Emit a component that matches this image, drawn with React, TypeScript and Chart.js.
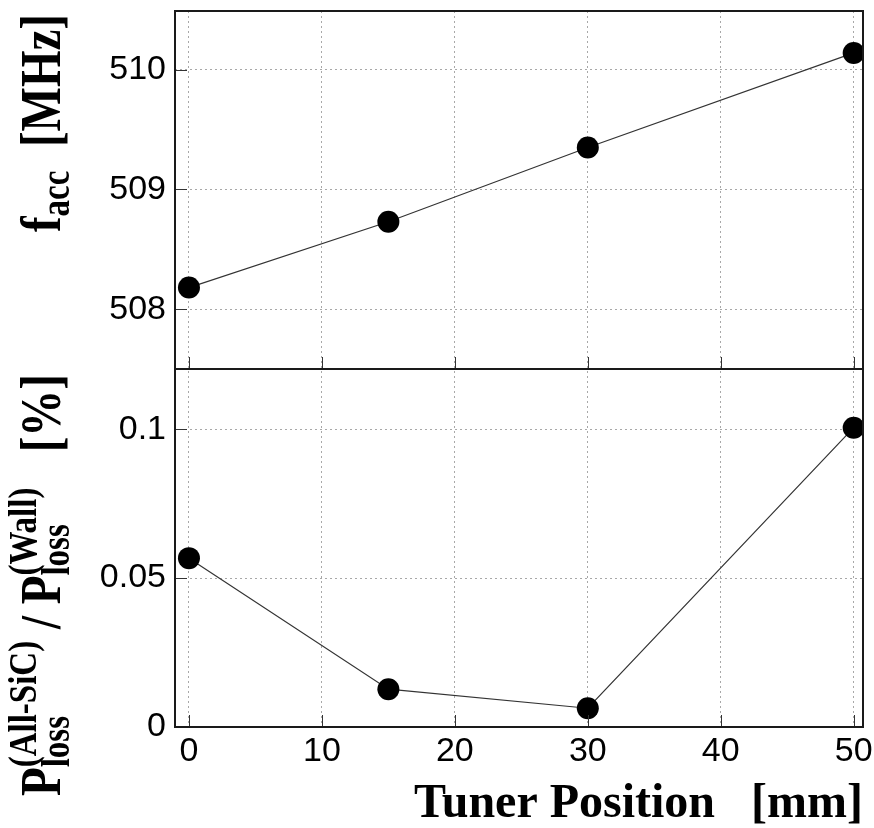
import React, { useEffect, useRef } from "react";
import { Chart, registerables } from "chart.js";

Chart.register(...registerables);

// Tuner scan: accelerating-mode frequency and SiC loss fraction
const tunerPos = [0, 15, 30, 50];
const faccMHz = [508.18, 508.73, 509.35, 510.14];
const lossRatioPct = [0.0567, 0.0127, 0.0063, 0.1005];

const xTicks = [0, 10, 20, 30, 40, 50];
const faccTicks = [508, 509, 510];
const ratioTicks = [0, 0.05, 0.1];

const xTitle = "Tuner Position   [mm]";

const SERIF = '"Liberation Serif", "Times New Roman", serif';
const SANS = '"Liberation Sans", Arial, sans-serif';

type Seg =
  | { kind: "text"; text: string; size: number; shift: number }
  | { kind: "pair"; sub: string; sup: string; size: number; subShift: number; supShift: number };

const MAIN = 47;
const SMALL = 33;
const STRETCH = 1.2;

const faccTitle: Seg[] = [
  { kind: "text", text: "f", size: MAIN, shift: 0 },
  { kind: "text", text: "acc", size: SMALL, shift: 9 },
  { kind: "text", text: "  ", size: MAIN, shift: 0 },
  { kind: "text", text: "[MHz]", size: MAIN, shift: 0 },
];

const ratioTitle: Seg[] = [
  { kind: "text", text: "P", size: MAIN, shift: 0 },
  { kind: "pair", sub: "loss", sup: "(All-SiC)", size: SMALL, subShift: 9, supShift: -24 },
  { kind: "text", text: " / ", size: MAIN, shift: 0 },
  { kind: "text", text: "P", size: MAIN, shift: 0 },
  { kind: "pair", sub: "loss", sup: "(Wall)", size: SMALL, subShift: 9, supShift: -24 },
  { kind: "text", text: "   ", size: MAIN, shift: 0 },
  { kind: "text", text: "[%]", size: MAIN, shift: 0 },
];

function segWidth(ctx: CanvasRenderingContext2D, s: Seg): number {
  ctx.font = `bold ${s.size}px ${SERIF}`;
  if (s.kind === "text") return ctx.measureText(s.text).width;
  return Math.max(ctx.measureText(s.sub).width, ctx.measureText(s.sup).width);
}

function drawRotated(ctx: CanvasRenderingContext2D, text: string, x: number, y: number) {
  ctx.save();
  ctx.translate(x, y);
  ctx.rotate(-Math.PI / 2);
  ctx.scale(1, STRETCH);
  ctx.textAlign = "left";
  ctx.textBaseline = "alphabetic";
  ctx.fillText(text, 0, 0);
  ctx.restore();
}

// Vertical title read bottom-to-top, ending at endY
function drawVerticalTitle(ctx: CanvasRenderingContext2D, segs: Seg[], baseX: number, endY: number) {
  const total = segs.reduce((a, s) => a + segWidth(ctx, s), 0);
  let pos = endY + total;
  ctx.fillStyle = "#000";
  for (const s of segs) {
    const w = segWidth(ctx, s);
    ctx.font = `bold ${s.size}px ${SERIF}`;
    if (s.kind === "text") {
      drawRotated(ctx, s.text, baseX + s.shift, pos);
    } else {
      drawRotated(ctx, s.sub, baseX + s.subShift, pos);
      drawRotated(ctx, s.sup, baseX + s.supShift, pos);
    }
    pos -= w;
  }
}

const framePlugin = {
  id: "panelFrames",
  afterDraw(chart: any) {
    const ctx: CanvasRenderingContext2D = chart.ctx;
    const xs = chart.scales.x;
    const panels = [chart.scales.yTop, chart.scales.yBot];
    const left = chart.chartArea.left;
    const right = chart.chartArea.right;

    ctx.save();
    // inward tick marks
    ctx.strokeStyle = "#333";
    ctx.lineWidth = 1;
    ctx.setLineDash([]);
    for (const p of panels) {
      for (const v of xTicks) {
        const px = Math.round(xs.getPixelForValue(v)) + 0.5;
        ctx.beginPath();
        ctx.moveTo(px, p.bottom);
        ctx.lineTo(px, p.bottom - 12);
        ctx.stroke();
      }
      const yt = p.id === "yTop" ? faccTicks : ratioTicks;
      for (const v of yt) {
        const py = Math.round(p.getPixelForValue(v)) + 0.5;
        ctx.beginPath();
        ctx.moveTo(left, py);
        ctx.lineTo(left + 12, py);
        ctx.stroke();
      }
    }
    // panel frames
    ctx.strokeStyle = "#1a1a1a";
    ctx.lineWidth = 2;
    for (const p of panels) {
      ctx.strokeRect(left, p.top, right - left, p.bottom - p.top);
    }
    ctx.restore();

    ctx.save();
    drawVerticalTitle(ctx, faccTitle, 60, chart.scales.yTop.top + 3);
    drawVerticalTitle(ctx, ratioTitle, 60, chart.scales.yBot.top + 5);

    ctx.font = `bold 48px ${SERIF}`;
    ctx.fillStyle = "#000";
    ctx.textAlign = "right";
    ctx.textBaseline = "alphabetic";
    ctx.fillText(xTitle, right, 817);
    ctx.restore();
  },
};

export default function App() {
  const ref = useRef<HTMLCanvasElement | null>(null);

  useEffect(() => {
    document.body.style.margin = "0";
    const canvas = ref.current;
    if (!canvas) return;

    const gridStyle = { color: "#a8a8a8", lineWidth: 1, drawTicks: false };
    const borderStyle = { display: false, dash: [2, 3] };
    const tickFont = { family: SANS, size: 34 };

    const fitY = (s: any) => {
      s.width = 175;
      s.paddingTop = 0;
      s.paddingBottom = 0;
    };

    const chart = new Chart(canvas, {
      type: "line",
      data: {
        datasets: [
          {
            data: tunerPos.map((x, i) => ({ x, y: lossRatioPct[i] })),
            yAxisID: "yBot",
            xAxisID: "x",
            borderColor: "#333",
            borderWidth: 1.2,
            pointRadius: 11,
            pointBackgroundColor: "#000",
            pointBorderWidth: 0,
            fill: false,
          },
          {
            data: tunerPos.map((x, i) => ({ x, y: faccMHz[i] })),
            yAxisID: "yTop",
            xAxisID: "x",
            borderColor: "#333",
            borderWidth: 1.2,
            pointRadius: 11,
            pointBackgroundColor: "#000",
            pointBorderWidth: 0,
            fill: false,
          },
        ],
      },
      options: {
        animation: false,
        responsive: false,
        layout: { padding: { left: 0, right: 9, top: 9, bottom: 0 } },
        plugins: { legend: { display: false }, tooltip: { enabled: false } },
        scales: {
          x: {
            type: "linear",
            position: "bottom",
            min: -1.05,
            max: 50.7,
            grid: gridStyle,
            border: borderStyle,
            ticks: { font: tickFont, color: "#000", padding: 4, maxRotation: 0 },
            afterBuildTicks: (s: any) => {
              s.ticks = xTicks.map((v) => ({ value: v }));
            },
            afterFit: (s: any) => {
              s.height = 101;
              s.paddingLeft = 0;
              s.paddingRight = 0;
            },
          },
          yBot: {
            type: "linear",
            position: "left",
            stack: "panels",
            stackWeight: 1,
            min: 0,
            max: 0.1202,
            grid: gridStyle,
            border: borderStyle,
            ticks: { font: tickFont, color: "#000", padding: 9, callback: (v: any) => String(v) },
            afterBuildTicks: (s: any) => {
              s.ticks = ratioTicks.map((v) => ({ value: v }));
            },
            afterFit: fitY,
          },
          yTop: {
            type: "linear",
            position: "left",
            stack: "panels",
            stackWeight: 1,
            min: 507.5,
            max: 510.49,
            grid: gridStyle,
            border: borderStyle,
            ticks: { font: tickFont, color: "#000", padding: 9, callback: (v: any) => String(v) },
            afterBuildTicks: (s: any) => {
              s.ticks = faccTicks.map((v) => ({ value: v }));
            },
            afterFit: fitY,
          },
        },
      } as any,
      plugins: [framePlugin],
    });

    return () => chart.destroy();
  }, []);

  return (
    <div style={{ position: "absolute", left: 0, top: 0, width: 874, height: 828, background: "#fff" }}>
      <canvas ref={ref} width={874} height={828} />
    </div>
  );
}
